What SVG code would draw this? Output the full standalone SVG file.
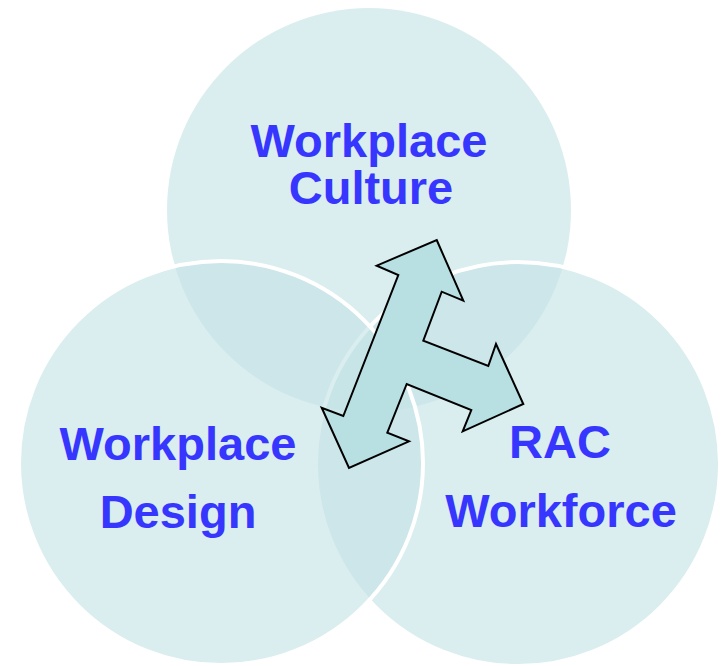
<svg xmlns="http://www.w3.org/2000/svg" width="722" height="666" viewBox="0 0 722 666">
<style>
.c{fill:#c3e2e5;fill-opacity:0.62;stroke:#ffffff;stroke-width:4}
.t{font-family:"Liberation Sans",Arial,sans-serif;font-weight:bold;font-size:47px;fill:#3636ff;text-anchor:middle}
.arr{fill:#b8dfe2;stroke:#000000;stroke-width:2;stroke-linejoin:miter}
</style>
<rect width="722" height="666" fill="#ffffff"/>
<g id="culture">
<circle class="c" cx="369" cy="210" r="202" style="stroke:none"/>
<text class="t"><tspan x="369" y="157">Workplace</tspan><tspan x="371" y="204">Culture</tspan></text>
</g>
<g id="workforce">
<circle class="c" cx="518" cy="464" r="202"/>
</g>
<g id="design">
<circle class="c" cx="221" cy="463" r="202"/>
</g>
<g id="labels">
<text class="t"><tspan x="178" y="460">Workplace</tspan><tspan x="178" y="528">Design</tspan></text>
<text class="t"><tspan x="560" y="458">RAC</tspan><tspan x="561" y="527">Workforce</tspan></text>
</g>
<g id="connectors">
<path class="arr" d="M436.7,240 L463.3,300.7 L441.7,291.7 L423.3,340.7 L488.3,366 L496,344 L523.3,404 L462.7,431.3 L471.3,410 L406.7,384 L387.3,432.7 L409,441.3 L349,468 L321.7,407.7 L343.3,416 L398.3,275 L376.7,265.7 Z"/>
</g>
</svg>
